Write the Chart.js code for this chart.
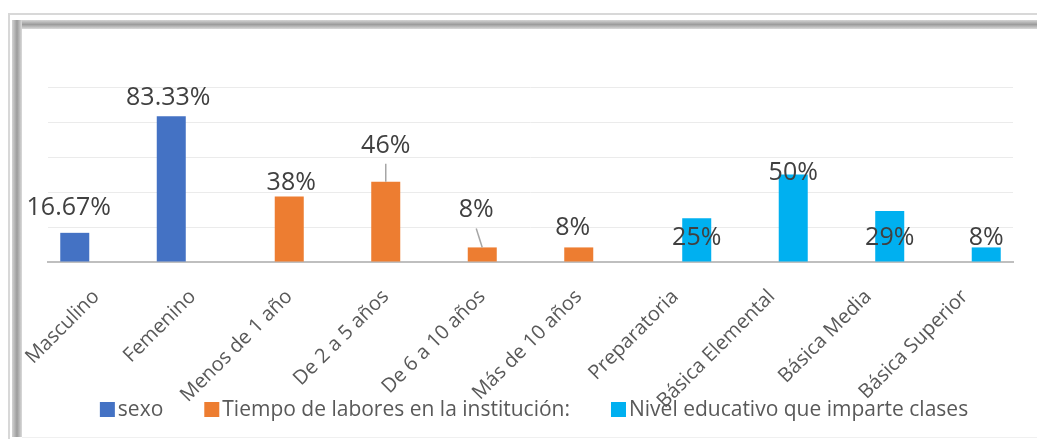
<!DOCTYPE html>
<html>
<head>
<meta charset="utf-8">
<title>Grafico</title>
<script src="https://cdn.jsdelivr.net/npm/chart.js@4.4.0/dist/chart.umd.min.js"></script>
<style>
    body { margin: 0; background: #fff; }
    #marco { position: relative; width: 1037px; height: 439px; overflow: hidden; }
    .linea-top { position: absolute; left: 8px; top: 13px; right: 0; height: 2px; background: #d8d8d8; }
    .linea-left { position: absolute; left: 8px; top: 13px; bottom: 0; width: 2px; background: #d8d8d8; }
    .sombra-top { position: absolute; left: 12px; top: 20px; right: 0; height: 9px; background: linear-gradient(#d4d4d4, #9c9c9c 50%, #dadada); }
    .sombra-left { position: absolute; left: 12px; top: 20px; bottom: 2px; width: 10px; background: linear-gradient(to right, #d4d4d4, #9c9c9c 50%, #dadada); }
    .linea-bottom { position: absolute; left: 22px; right: 0; bottom: 1px; height: 1px; background: #f0f0f0; }
    #contenedor { position: absolute; left: 0; top: 0; width: 1037px; height: 439px; }
</style>
</head>
<body>
<div id="marco">
    <div class="linea-top"></div>
    <div class="linea-left"></div>
    <div class="sombra-top"></div>
    <div class="sombra-left"></div>
    <div class="linea-bottom"></div>
    <div id="contenedor"><canvas id="grafico"></canvas></div>
</div>
<script>
// ------------- DATOS ----------------//
var categorias = ['Masculino', 'Femenino', 'Menos de 1 año', 'De 2 a 5 años', 'De 6 a 10 años', 'Más de 10 años', 'Preparatoria', 'Básica Elemental', 'Básica Media', 'Básica Superior'];
var sexo = [16.67, 83.33, null, null, null, null, null, null, null, null];
var tiempo = [null, null, 37.5, 45.83, 8.33, 8.33, null, null, null, null];
var nivel = [null, null, null, null, null, null, 25, 50, 29.17, 8.33];
var decimales = [2, 0, 0];
var ticksY = [0, 20, 40, 60, 80, 100];

// desplazamiento de cada etiqueta respecto a la barra [dx, dy, linea guia]
var ajusteSexo = [[-6, -27], [-3, -20], null, null, null, null, null, null, null, null];
var ajusteTiempo = [null, null, [2, -15], [0, -38, true], [-6, -39, true], [-6, -21], null, null, null, null];
var ajusteNivel = [null, null, null, null, null, null, [0, 18], [0, -4], [0, 25], [0, -11]];
var ajustes = [ajusteSexo, ajusteTiempo, ajusteNivel];

// ------------- ETIQUETAS DE DATOS ----------------//
var etiquetasPlugin = {
    id: 'etiquetas',
    afterDatasetsDraw: function (chart) {
        var ctx = chart.ctx;
        ctx.save();
        ctx.font = '25px "Open Sans"';
        ctx.textAlign = 'center';
        ctx.textBaseline = 'alphabetic';
        chart.data.datasets.forEach(function (ds, i) {
            var meta = chart.getDatasetMeta(i);
            meta.data.forEach(function (barra, j) {
                var v = ds.data[j];
                if (v === null) return;
                var aj = ajustes[i][j] || [0, -18];
                var x = barra.x + aj[0];
                var y = barra.y + aj[1];
                if (aj[2]) {
                    ctx.strokeStyle = '#a6a6a6';
                    ctx.lineWidth = 1.5;
                    ctx.beginPath();
                    ctx.moveTo(x, y + 20);
                    ctx.lineTo(barra.x, barra.y);
                    ctx.stroke();
                }
                ctx.fillStyle = '#404040';
                ctx.fillText(v.toFixed(decimales[i]) + '%', x, y + 9);
            });
        });
        ctx.restore();
    }
};

// ------------- LEYENDA ----------------//
var leyendaPlugin = {
    id: 'leyenda',
    afterDraw: function (chart) {
        var ctx = chart.ctx;
        ctx.save();
        ctx.font = '21px "Open Sans"';
        var total = 0;
        var anchos = chart.data.datasets.map(function (ds) {
            var w = ctx.measureText(ds.label).width;
            total += 15 + 3 + w;
            return w;
        });
        total += 41 * (anchos.length - 1);
        var x = 534 - total / 2;
        chart.data.datasets.forEach(function (ds, i) {
            ctx.fillStyle = ds.backgroundColor;
            ctx.fillRect(x, 402, 15, 15);
            ctx.fillStyle = '#595959';
            ctx.textBaseline = 'alphabetic';
            ctx.fillText(ds.label, x + 18, 416);
            x += 18 + anchos[i] + 41;
        });
        ctx.restore();
    }
};

var ctx = document.getElementById('grafico');
var chart = new Chart(ctx, {
    type: 'bar',
    data: {
        labels: categorias,
        datasets: [{
            label: 'sexo',
            backgroundColor: '#4472c4',
            data: sexo
        },
        {
            label: 'Tiempo de labores en la institución:',
            backgroundColor: '#ed7d31',
            data: tiempo
        },
        {
            label: 'Nivel educativo que imparte clases',
            backgroundColor: '#00b0f0',
            data: nivel
        }]
    },
    options: {
        responsive: true,
        maintainAspectRatio: false,
        animation: false,
        categoryPercentage: 0.668,
        barPercentage: 1.35,
        layout: { padding: { left: 48, right: 24, top: 87, bottom: 0 } },
        plugins: {
            legend: { display: false },
            tooltip: { enabled: false }
        },
        scales: {
            x: {
                grid: { display: false },
                border: { display: true, color: '#bfbfbf', width: 2 },
                ticks: {
                    autoSkip: false,
                    maxRotation: 45,
                    minRotation: 45,
                    padding: 15,
                    color: '#595959',
                    font: { family: 'Open Sans', size: 20 }
                },
                afterFit: function (scale) { scale.height = 177; }
            },
            y: {
                min: 0,
                max: 100,
                afterBuildTicks: function (scale) {
                    scale.ticks = ticksY.map(function (v) { return { value: v }; });
                },
                grid: { color: '#ebebeb', lineWidth: 1, drawTicks: false },
                border: { display: false },
                ticks: { display: false },
                afterFit: function (scale) { scale.width = 0; }
            }
        }
    },
    plugins: [etiquetasPlugin, leyendaPlugin]
});
</script>
</body>
</html>
